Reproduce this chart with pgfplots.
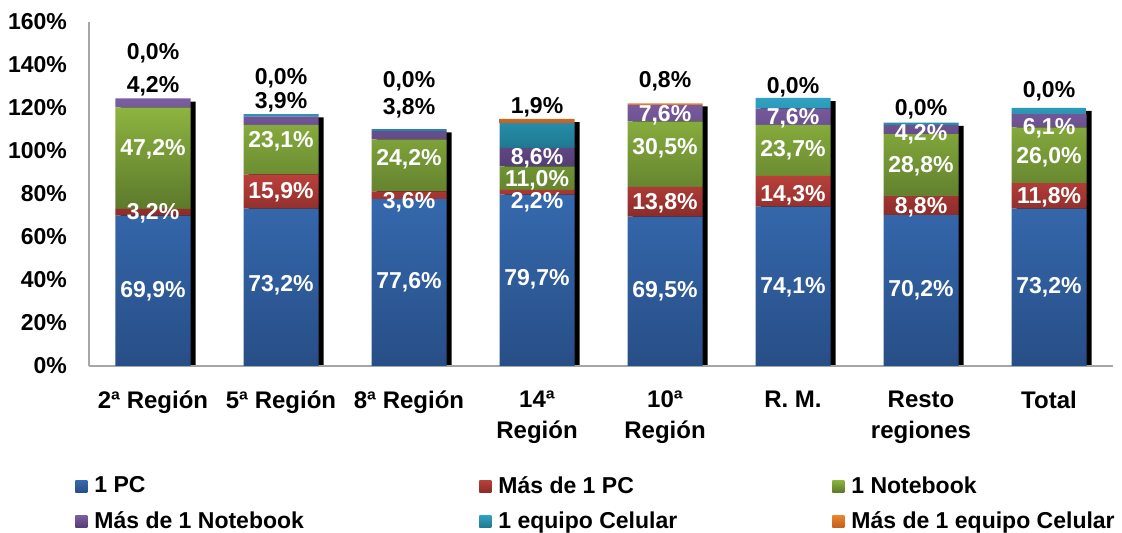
\documentclass[border=0pt]{standalone}
\usepackage{pgfplots}
\pgfplotsset{compat=1.18}
\usepackage{fontspec}
\setmainfont{Liberation Sans}
\usetikzlibrary{calc}

\definecolor{bluT}{HTML}{3569AE}\definecolor{bluB}{HTML}{284E86}
\definecolor{redT}{HTML}{BA403B}\definecolor{redB}{HTML}{8A2C29}
\definecolor{greT}{HTML}{8DB440}\definecolor{greB}{HTML}{5C792B}
\definecolor{purT}{HTML}{7C5DA2}\definecolor{purB}{HTML}{543E76}
\definecolor{cyaT}{HTML}{30A2C2}\definecolor{cyaB}{HTML}{1F7890}
\definecolor{oraT}{HTML}{EC832C}\definecolor{oraB}{HTML}{C2621F}
\definecolor{axgray}{HTML}{A6A6A6}

\newcommand{\lblfont}{\bfseries\fontsize{11.5}{13}\selectfont}
\newcommand{\lab}[4]{\node[font=\lblfont, text=#4, inner sep=0pt] at (axis cs:#1,#2) {#3};}

\begin{document}
\begin{tikzpicture}
% shadow bars
\begin{axis}[
  scale only axis, width=512pt, height=172pt,
  xmin=-0.5, xmax=7.5, ymin=0, ymax=160,
  hide axis, ybar, bar width=37.5pt, bar shift=2.6pt]
\addplot[fill=black, draw=none] coordinates {
 (0,123.0) (1,115.6) (2,108.7) (3,113.4) (4,120.7) (5,123.2) (6,111.7) (7,118.6)};
\end{axis}
% main stacked bars
\begin{axis}[
  scale only axis, width=512pt, height=172pt,
  xmin=-0.5, xmax=7.5, ymin=0, ymax=160,
  ybar stacked, bar width=37.5pt,
  axis x line*=bottom, axis y line*=left,
  axis line style={draw=axgray, line width=0.6pt, -},
  major tick length=0pt,
  xtick={0,...,7},
  xticklabels={2ª Región,5ª Región,8ª Región,14ª\\Región,10ª\\Región,R. M.,Resto\\regiones,Total},
  xticklabel style={align=center, font=\bfseries\fontsize{12}{15.5}\selectfont, yshift=-9pt},
  ytick={0,20,...,160},
  yticklabel={\pgfmathprintnumber{\tick}\%},
  /pgf/number format/assume math mode=true,
  yticklabel style={font=\bfseries\fontsize{11.5}{13}\selectfont, xshift=-7.5pt},
  every axis plot post/.append style={legend image code/.code={\path[##1] (0pt,-3pt) rectangle (6pt,3pt);}},
  legend columns=3,
  legend cell align=left,
  legend style={at={(0,0)}, anchor=north west, xshift=-10pt, yshift=-53pt,
    draw=none, fill=none, font=\bfseries\fontsize{11.5}{13}\selectfont,
    nodes={inner sep=0pt}, column sep=3.5pt, row sep=7.5pt},
]
\addplot[draw=none, top color=bluT, bottom color=bluB] coordinates {
 (0,69.9) (1,73.2) (2,77.6) (3,79.7) (4,69.5) (5,74.1) (6,70.2) (7,73.2)};
\addlegendentry{\makebox[189pt][l]{1 PC}}
\addplot[draw=none, top color=redT, bottom color=redB] coordinates {
 (0,3.2) (1,15.9) (2,3.6) (3,2.2) (4,13.8) (5,14.3) (6,8.8) (7,11.8)};
\addlegendentry{\makebox[163.5pt][l]{Más de 1 PC}}
\addplot[draw=none, top color=greT, bottom color=greB] coordinates {
 (0,47.2) (1,23.1) (2,24.2) (3,11.0) (4,30.5) (5,23.7) (6,28.8) (7,26.0)};
\addlegendentry{1 Notebook}
\addplot[draw=none, top color=purT, bottom color=purB] coordinates {
 (0,4.2) (1,3.9) (2,3.8) (3,8.6) (4,7.6) (5,7.6) (6,4.2) (7,6.1)};
\addlegendentry{\makebox[189pt][l]{Más de 1 Notebook}}
\addplot[draw=none, top color=cyaT, bottom color=cyaB] coordinates {
 (0,0.0) (1,1.0) (2,1.0) (3,11.5) (4,0.0) (5,5.0) (6,1.2) (7,3.0)};
\addlegendentry{\makebox[163.5pt][l]{1 equipo Celular}}
\addplot[draw=none, top color=oraT, bottom color=oraB] coordinates {
 (0,0.0) (1,0.0) (2,0.0) (3,1.9) (4,0.8) (5,0.0) (6,0.0) (7,0.0)};
\addlegendentry{Más de 1 equipo Celular}
\coordinate (O) at (rel axis cs:0,0);
\coordinate (T) at (rel axis cs:1,1);
\end{axis}
% data labels on top
\begin{axis}[
  scale only axis, width=512pt, height=172pt,
  xmin=-0.5, xmax=7.5, ymin=0, ymax=160, hide axis, clip=false]
% labels bar 0
\lab{0}{34.6}{69,9\%}{white}
\lab{0}{71.2}{3,2\%}{white}
\lab{0}{101}{47,2\%}{white}
\lab{0}{130}{4,2\%}{black}
\lab{0}{145.6}{0,0\%}{black}
% bar 1
\lab{1}{37.5}{73,2\%}{white}
\lab{1}{81}{15,9\%}{white}
\lab{1}{104.6}{23,1\%}{white}
\lab{1}{122.8}{3,9\%}{black}
\lab{1}{134}{0,0\%}{black}
% bar 2
\lab{2}{39}{77,6\%}{white}
\lab{2}{76.3}{3,6\%}{white}
\lab{2}{96}{24,2\%}{white}
\lab{2}{120}{3,8\%}{black}
\lab{2}{132.5}{0,0\%}{black}
% bar 3
\lab{3}{40.5}{79,7\%}{white}
\lab{3}{76.3}{2,2\%}{white}
\lab{3}{86.5}{11,0\%}{white}
\lab{3}{96.7}{8,6\%}{white}
\lab{3}{120.5}{1,9\%}{black}
% bar 4
\lab{4}{34.6}{69,5\%}{white}
\lab{4}{75.8}{13,8\%}{white}
\lab{4}{101.4}{30,5\%}{white}
\lab{4}{116.7}{7,6\%}{white}
\lab{4}{132.6}{0,8\%}{black}
% bar 5
\lab{5}{36.5}{74,1\%}{white}
\lab{5}{79.5}{14,3\%}{white}
\lab{5}{100.5}{23,7\%}{white}
\lab{5}{115.3}{7,6\%}{white}
\lab{5}{129.8}{0,0\%}{black}
% bar 6
\lab{6}{35.2}{70,2\%}{white}
\lab{6}{74}{8,8\%}{white}
\lab{6}{93}{28,8\%}{white}
\lab{6}{107.9}{4,2\%}{white}
\lab{6}{119.5}{0,0\%}{black}
% bar 7
\lab{7}{36.7}{73,2\%}{white}
\lab{7}{78.6}{11,8\%}{white}
\lab{7}{97.2}{26,0\%}{white}
\lab{7}{110.7}{6,1\%}{white}
\lab{7}{128}{0,0\%}{black}
\end{axis}
\pgfresetboundingbox
\path[use as bounding box] ($(O)+(-44.5pt,-83.5pt)$) rectangle ($(T)+(4.5pt,11pt)$);
\end{tikzpicture}
\end{document}
